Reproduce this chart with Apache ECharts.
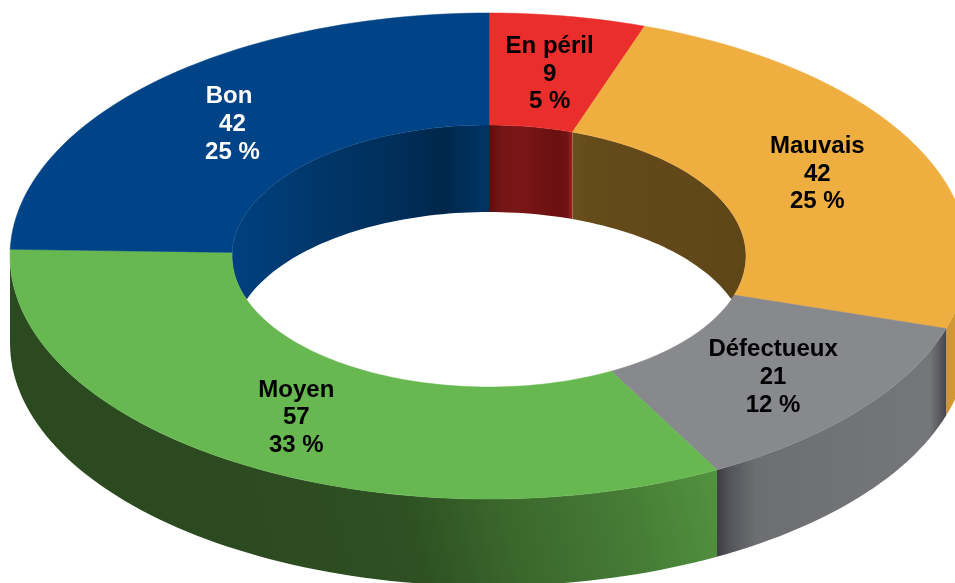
<!DOCTYPE html>
<html>
<head>
<meta charset="utf-8">
<style>html,body{margin:0;padding:0;background:#fff;overflow:hidden}#c{width:955px;height:583px}</style>
<script src="https://cdn.jsdelivr.net/npm/echarts@6/dist/echarts.min.js"></script>
</head>
<body>
<div id="c"></div>
<script>
// Data
const categories = ['En péril', 'Mauvais', 'Défectueux', 'Moyen', 'Bon '];
const values = [9, 42, 21, 57, 42];
// Styles
const topColors = ['#EA2E2B', '#EFAE40', '#88898D', '#67B850', '#004386'];
const labelColors = ['#000', '#000', '#000', '#000', '#fff'];
const innerStops = [
  [[0,'#5c0f10'],[0.15,'#731516'],[0.35,'#7c1617'],[0.8,'#6a1011'],[0.94,'#701314'],[1,'#a82020']],
  [[0,'#6a501e'],[0.1,'#654a1a'],[1,'#5f4619']],
  [[0,'#444'],[1,'#444']],
  [[0,'#2c4c20'],[1,'#2c4c20']],
  [[0,'#00407f'],[0.35,'#003769'],[0.65,'#002e59'],[0.82,'#00274b'],[0.92,'#002f5b'],[1,'#003664']]
];
const outerStops = [
  [[0,'#c00'],[1,'#c00']],
  [[0,'#cf9434'],[1,'#d99e38']],
  [[0,'#3d3d43'],[0.06,'#55565b'],[0.17,'#6d6e72'],[0.6,'#727377'],[0.93,'#75767a'],[1,'#46464c']],
  [[0,'#2c4a20'],[0.35,'#2e5022'],[0.55,'#3a672c'],[0.8,'#467c36'],[1,'#52933f']],
  [[0,'#2c4c20'],[1,'#2c4c20']]
];
// Ring geometry (ellipse = projected circle)
const CX = 489, CY = 256, RX = 479, RY = 243, IRX = 257, IRY = 131, DEPTH = 87;
const FONT = 'bold 24px "Liberation Sans", Arial, sans-serif';
const LINE_H = 27.6, LABEL_DY = 2.5;

const total = values.reduce((a, b) => a + b, 0);
const DEG = Math.PI / 180;
let acc = 0;
const spans = values.map(v => { const s = [acc, acc + v / total * 360]; acc = s[1]; return s; });

function pt(rx, ry, t, dy) {
  return [CX + rx * Math.sin(t * DEG), CY - ry * Math.cos(t * DEG) + (dy || 0)];
}
function arc(rx, ry, a, b, dy) {
  const n = Math.max(2, Math.ceil(Math.abs(b - a) / 1.5));
  const out = [];
  for (let i = 0; i <= n; i++) out.push(pt(rx, ry, a + (b - a) * i / n, dy));
  return out;
}
function grad(x0, x1, stops, y0, y1) {
  return new echarts.graphic.LinearGradient(x0, y0 || 0, x1, y1 || 0,
    stops.map(s => ({ offset: s[0], color: s[1] })), true);
}
// the visible back wall of the hole, over angles -90..90
function innerWall(a, b) {
  const n = Math.max(2, Math.ceil((b - a) / 1.5));
  const up = [], low = [];
  for (let i = 0; i <= n; i++) {
    const t = a + (b - a) * i / n;
    const p = pt(IRX, IRY, t);
    const c = Math.abs(Math.cos(t * DEG)) * IRY;
    up.push(p);
    low.unshift([p[0], Math.min(CY + c, CY + DEPTH - c)]);
  }
  return up.concat(low);
}

function renderItem(params, api) {
  const i = params.dataIndex;
  const [a, b] = spans[i];
  const children = [];
  // inner wall: angles in the back half (t<90 or t>270)
  [[a, Math.min(b, 90)], [Math.max(a, 270), b]].forEach(r => {
    if (r[1] > r[0]) {
      const pts = innerWall(r[0], r[1]);
      const xs = pts.map(p => p[0]);
      const x0 = Math.min.apply(null, xs), x1 = Math.max.apply(null, xs);
      children.push({ type: 'polygon', z2: 1, shape: { points: pts },
        style: { fill: grad(x0, x1, innerStops[i]) } });
    }
  });
  // outer wall: front half
  const oa = Math.max(a, 90), ob = Math.min(b, 270);
  if (ob > oa) {
    const pts = arc(RX, RY, oa, ob, 0).concat(arc(RX, RY, ob, oa, DEPTH));
    const xs = pts.map(p => p[0]);
    const x0 = Math.min.apply(null, xs), x1 = Math.max.apply(null, xs);
    const diagonal = i === 3;
    children.push({ type: 'polygon', z2: 1, shape: { points: pts },
      style: { fill: diagonal ? grad(x0 + 240, x1, outerStops[i], 590, 470) : grad(x0, x1, outerStops[i]) } });
  }
  // top face
  const face = arc(RX, RY, a, b, 0).concat(arc(IRX, IRY, b, a, 0));
  children.push({ type: 'polygon', z2: 2, shape: { points: face },
    style: { fill: topColors[i], stroke: topColors[i], lineWidth: 0.5 } });
  // label at the ring's middle
  const mid = (a + b) / 2;
  const lp = pt((RX + IRX) / 2, (RY + IRY) / 2, mid);
  const pct = Math.round(api.value(0) / total * 100);
  [categories[i], String(api.value(0)), pct + ' %'].forEach((line, k) => {
    children.push({ type: 'text', z2: 5, style: {
      text: line, x: lp[0], y: lp[1] + LABEL_DY + (k - 1) * LINE_H,
      align: 'center', verticalAlign: 'middle', font: FONT, fill: labelColors[i]
    }});
  });
  return { type: 'group', children };
}

const chart = echarts.init(document.getElementById('c'), null, { renderer: 'canvas' });
chart.setOption({
  animation: false,
  backgroundColor: '#fff',
  series: [{
    type: 'custom',
    coordinateSystem: 'none',
    renderItem,
    silent: true,
    clip: false,
    data: values.map((v, i) => ({ name: categories[i], value: [v] }))
  }]
});
</script>
</body>
</html>
